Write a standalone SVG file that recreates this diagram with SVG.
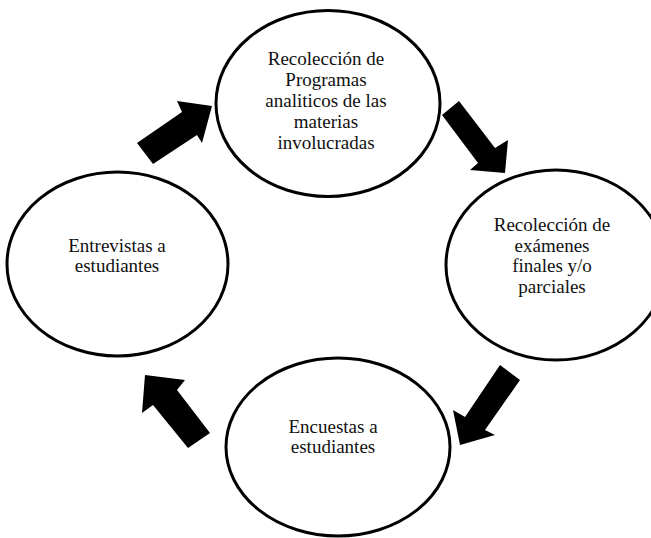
<svg xmlns="http://www.w3.org/2000/svg" width="651" height="538" viewBox="0 0 651 538">
<style>
.n{fill:#fff;stroke:#000;stroke-width:3}
.t{font-family:"Liberation Serif","Times New Roman",serif;font-size:19px;fill:#111;text-anchor:middle}
.a{fill:#000}
</style>
<rect width="651" height="538" fill="#fff"/>
<g id="n-programas">
<ellipse class="n" cx="328" cy="103.5" rx="112" ry="93"/>
<text class="t" x="326" y="65">Recolección de</text>
<text class="t" x="326" y="86">Programas</text>
<text class="t" x="326" y="107">analiticos de las</text>
<text class="t" x="326" y="128">materias</text>
<text class="t" x="326" y="149">involucradas</text>
</g>
<g id="n-examenes">
<ellipse class="n" cx="556" cy="265" rx="110" ry="95"/>
<text class="t" x="552" y="231">Recolección de</text>
<text class="t" x="552" y="251.5">exámenes</text>
<text class="t" x="552" y="272">finales y/o</text>
<text class="t" x="552" y="292.5">parciales</text>
</g>
<g id="n-encuestas">
<ellipse class="n" cx="338" cy="447" rx="112" ry="89"/>
<text class="t" x="333" y="433">Encuestas a</text>
<text class="t" x="333" y="453">estudiantes</text>
</g>
<g id="n-entrevistas">
<ellipse class="n" cx="117.5" cy="264" rx="110.5" ry="92"/>
<text class="t" x="117" y="252">Entrevistas a</text>
<text class="t" x="117" y="272">estudiantes</text>
</g>
<g id="connectors">
<polygon class="a" points="137,143 182,112 177,101 212,106 202,143 197,135 153,164"/>
<polygon class="a" points="442,115 459,101 495,148 508,140 505,173 470,170 478,163"/>
<polygon class="a" points="500,365 520,380 485,430 495,435 460,445 453,410 465,417"/>
<polygon class="a" points="188,448 210,433 177,390 185,380 145,375 142,413 153,405"/>
</g>
</svg>
